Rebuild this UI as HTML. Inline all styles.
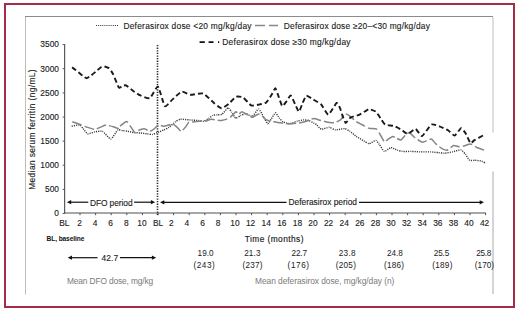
<!DOCTYPE html>
<html><head><meta charset="utf-8"><style>
html,body{margin:0;padding:0;background:#fff;}
body{width:520px;height:312px;overflow:hidden;}
svg{display:block;}
.t{font-family:"Liberation Sans", sans-serif;font-size:8.4px;fill:#1a1a1a;stroke:#1a1a1a;stroke-width:0.12px;}
.tb{font-family:"Liberation Sans", sans-serif;font-size:6.6px;font-weight:bold;fill:#111;}
.tg{font-family:"Liberation Sans", sans-serif;font-size:8.4px;fill:#7a7a7a;}
.tn{font-family:"Liberation Sans", sans-serif;font-size:8.2px;fill:#1a1a1a;}
.tt{font-family:"Liberation Sans", sans-serif;font-size:8.4px;fill:#1a1a1a;stroke:#1a1a1a;stroke-width:0.15px;}
</style></head><body>
<svg width="520" height="312" viewBox="0 0 520 312">
<rect x="5" y="4" width="509" height="303" fill="none" stroke="#a62b4a" stroke-width="2"/>
<path d="M25.5,294.5 V17" fill="none" stroke="#bdbdbd" stroke-width="1"/>
<path d="M25,16.5 H493" fill="none" stroke="#8c8c8c" stroke-width="1"/>
<path d="M493,17 V132.5" fill="none" stroke="#bdbdbd" stroke-width="1"/>
<path d="M493,171.5 V294" fill="none" stroke="#ababab" stroke-width="1"/>
<line x1="96" y1="25.5" x2="119" y2="25.5" stroke="#333" stroke-width="1" stroke-dasharray="1 1.1"/>
<text x="123.4" y="28.7" class="t" textLength="128.1" lengthAdjust="spacing">Deferasirox dose &lt;20 mg/kg/day</text>
<line x1="255" y1="25.5" x2="278" y2="25.5" stroke="#888" stroke-width="1.5" stroke-dasharray="10 4"/>
<text x="283.8" y="28.7" class="t" textLength="146.1" lengthAdjust="spacing">Deferasirox dose ≥20–&lt;30 mg/kg/day</text>
<path d="M199.6,42.2 H204.8 M208.6,42.2 H213.5 M218,42.2 H219.2" stroke="#111" stroke-width="1.8"/>
<text x="222.3" y="45" class="t" textLength="128.2" lengthAdjust="spacing">Deferasirox dose ≥30 mg/kg/day</text>
<line x1="64.6" y1="44" x2="64.6" y2="213.6" stroke="#5a5a5a" stroke-width="1.2"/>
<line x1="62.6" y1="213.5" x2="64.6" y2="213.5" stroke="#5a5a5a" stroke-width="1"/>
<text x="59" y="216.3" class="t" text-anchor="end">0</text>
<line x1="62.6" y1="189.4" x2="64.6" y2="189.4" stroke="#5a5a5a" stroke-width="1"/>
<text x="59" y="192.2" class="t" text-anchor="end">500</text>
<line x1="62.6" y1="165.2" x2="64.6" y2="165.2" stroke="#5a5a5a" stroke-width="1"/>
<text x="59" y="168.0" class="t" text-anchor="end">1000</text>
<line x1="62.6" y1="141.1" x2="64.6" y2="141.1" stroke="#5a5a5a" stroke-width="1"/>
<text x="59" y="143.9" class="t" text-anchor="end">1500</text>
<line x1="62.6" y1="117.0" x2="64.6" y2="117.0" stroke="#5a5a5a" stroke-width="1"/>
<text x="59" y="119.8" class="t" text-anchor="end">2000</text>
<line x1="62.6" y1="92.9" x2="64.6" y2="92.9" stroke="#5a5a5a" stroke-width="1"/>
<text x="59" y="95.7" class="t" text-anchor="end">2500</text>
<line x1="62.6" y1="68.7" x2="64.6" y2="68.7" stroke="#5a5a5a" stroke-width="1"/>
<text x="59" y="71.5" class="t" text-anchor="end">3000</text>
<line x1="62.6" y1="44.6" x2="64.6" y2="44.6" stroke="#5a5a5a" stroke-width="1"/>
<text x="59" y="47.4" class="t" text-anchor="end">3500</text>
<text transform="translate(34.9,129.6) rotate(-90)" class="t" text-anchor="middle" textLength="120.4" lengthAdjust="spacing">Median serum ferritin (ng/mL)</text>
<line x1="64" y1="213" x2="486" y2="213" stroke="#505050" stroke-width="1.2"/>
<text x="64.4" y="226.3" class="t" text-anchor="middle">BL</text>
<line x1="80.0" y1="213" x2="80.0" y2="215.2" stroke="#505050" stroke-width="1"/>
<text x="79.5" y="226.3" class="t" text-anchor="middle">2</text>
<line x1="95.6" y1="213" x2="95.6" y2="215.2" stroke="#505050" stroke-width="1"/>
<text x="95.1" y="226.3" class="t" text-anchor="middle">4</text>
<line x1="111.2" y1="213" x2="111.2" y2="215.2" stroke="#505050" stroke-width="1"/>
<text x="110.7" y="226.3" class="t" text-anchor="middle">6</text>
<line x1="126.8" y1="213" x2="126.8" y2="215.2" stroke="#505050" stroke-width="1"/>
<text x="126.3" y="226.3" class="t" text-anchor="middle">8</text>
<line x1="142.4" y1="213" x2="142.4" y2="215.2" stroke="#505050" stroke-width="1"/>
<text x="141.9" y="226.3" class="t" text-anchor="middle">10</text>
<line x1="158.0" y1="213" x2="158.0" y2="215.2" stroke="#505050" stroke-width="1"/>
<text x="158.0" y="226.3" class="t" text-anchor="middle">BL</text>
<line x1="173.6" y1="213" x2="173.6" y2="215.2" stroke="#505050" stroke-width="1"/>
<text x="171.3" y="226.3" class="t" text-anchor="middle">2</text>
<line x1="189.2" y1="213" x2="189.2" y2="215.2" stroke="#505050" stroke-width="1"/>
<text x="186.9" y="226.3" class="t" text-anchor="middle">4</text>
<line x1="204.8" y1="213" x2="204.8" y2="215.2" stroke="#505050" stroke-width="1"/>
<text x="202.5" y="226.3" class="t" text-anchor="middle">6</text>
<line x1="220.4" y1="213" x2="220.4" y2="215.2" stroke="#505050" stroke-width="1"/>
<text x="218.1" y="226.3" class="t" text-anchor="middle">8</text>
<line x1="236.0" y1="213" x2="236.0" y2="215.2" stroke="#505050" stroke-width="1"/>
<text x="235.0" y="226.3" class="t" text-anchor="middle">10</text>
<line x1="251.6" y1="213" x2="251.6" y2="215.2" stroke="#505050" stroke-width="1"/>
<text x="250.6" y="226.3" class="t" text-anchor="middle">12</text>
<line x1="267.2" y1="213" x2="267.2" y2="215.2" stroke="#505050" stroke-width="1"/>
<text x="266.2" y="226.3" class="t" text-anchor="middle">14</text>
<line x1="282.8" y1="213" x2="282.8" y2="215.2" stroke="#505050" stroke-width="1"/>
<text x="281.8" y="226.3" class="t" text-anchor="middle">16</text>
<line x1="298.4" y1="213" x2="298.4" y2="215.2" stroke="#505050" stroke-width="1"/>
<text x="297.4" y="226.3" class="t" text-anchor="middle">18</text>
<line x1="314.0" y1="213" x2="314.0" y2="215.2" stroke="#505050" stroke-width="1"/>
<text x="313.0" y="226.3" class="t" text-anchor="middle">20</text>
<line x1="329.6" y1="213" x2="329.6" y2="215.2" stroke="#505050" stroke-width="1"/>
<text x="328.6" y="226.3" class="t" text-anchor="middle">22</text>
<line x1="345.2" y1="213" x2="345.2" y2="215.2" stroke="#505050" stroke-width="1"/>
<text x="344.2" y="226.3" class="t" text-anchor="middle">24</text>
<line x1="360.8" y1="213" x2="360.8" y2="215.2" stroke="#505050" stroke-width="1"/>
<text x="359.8" y="226.3" class="t" text-anchor="middle">26</text>
<line x1="376.4" y1="213" x2="376.4" y2="215.2" stroke="#505050" stroke-width="1"/>
<text x="375.4" y="226.3" class="t" text-anchor="middle">28</text>
<line x1="392.0" y1="213" x2="392.0" y2="215.2" stroke="#505050" stroke-width="1"/>
<text x="391.0" y="226.3" class="t" text-anchor="middle">30</text>
<line x1="407.6" y1="213" x2="407.6" y2="215.2" stroke="#505050" stroke-width="1"/>
<text x="406.6" y="226.3" class="t" text-anchor="middle">32</text>
<line x1="423.2" y1="213" x2="423.2" y2="215.2" stroke="#505050" stroke-width="1"/>
<text x="422.2" y="226.3" class="t" text-anchor="middle">34</text>
<line x1="438.8" y1="213" x2="438.8" y2="215.2" stroke="#505050" stroke-width="1"/>
<text x="437.8" y="226.3" class="t" text-anchor="middle">36</text>
<line x1="454.4" y1="213" x2="454.4" y2="215.2" stroke="#505050" stroke-width="1"/>
<text x="453.4" y="226.3" class="t" text-anchor="middle">38</text>
<line x1="470.0" y1="213" x2="470.0" y2="215.2" stroke="#505050" stroke-width="1"/>
<text x="469.0" y="226.3" class="t" text-anchor="middle">40</text>
<line x1="485.6" y1="213" x2="485.6" y2="215.2" stroke="#505050" stroke-width="1"/>
<text x="484.6" y="226.3" class="t" text-anchor="middle">42</text>
<line x1="157.5" y1="45" x2="157.5" y2="215" stroke="#2a2a2a" stroke-width="1.6" stroke-dasharray="1.3 1.3"/>
<line x1="69.9" y1="202.2" x2="88.3" y2="202.2" stroke="#111" stroke-width="1.2"/>
<line x1="134.1" y1="202.2" x2="152.2" y2="202.2" stroke="#111" stroke-width="1.2"/>
<path d="M66.9,202.2 l4.3,-2.1 v4.2 z" fill="#111"/>
<path d="M155.2,202.2 l-4.3,-2.1 v4.2 z" fill="#111"/>
<text x="89.9" y="205.8" class="t" textLength="42.7" lengthAdjust="spacing">DFO period</text>
<line x1="163.0" y1="202.3" x2="286.5" y2="202.3" stroke="#111" stroke-width="1.2"/>
<line x1="359" y1="202.3" x2="481.0" y2="202.3" stroke="#111" stroke-width="1.2"/>
<path d="M160,202.3 l4.3,-2.1 v4.2 z" fill="#111"/>
<path d="M484,202.3 l-4.3,-2.1 v4.2 z" fill="#111"/>
<text x="288.4" y="205.2" class="t" textLength="68.6" lengthAdjust="spacing">Deferasirox period</text>
<path d="M71.7,126.2 C72.3,126.1 78.4,124.7 79.4,124.9 C80.4,125.1 82.5,128.0 83.2,128.7 C83.9,129.4 86.7,133.5 87.7,133.8 C88.7,134.1 93.6,132.1 94.8,131.9 C96.0,131.7 101.2,130.7 102.5,131.3 C103.8,131.9 109.5,139.1 110.8,139.0 C112.1,138.9 116.8,130.7 117.8,130.0 C118.8,129.3 121.9,130.5 122.7,130.6 C123.5,130.7 126.8,131.1 127.8,131.3 C128.8,131.5 133.1,132.5 134.2,132.6 C135.3,132.7 139.5,132.9 140.6,133.0 C141.7,133.1 146.0,133.7 147.0,133.8 C148.0,133.9 151.3,134.6 152.2,134.5 C153.1,134.4 156.3,133.0 157.3,132.6 C158.3,132.2 162.7,130.4 163.7,130.0 C164.7,129.6 167.8,128.1 168.8,127.4 C169.8,126.7 174.4,122.5 175.4,121.8 C176.4,121.1 179.3,119.4 180.5,119.2 C181.7,119.0 188.0,119.8 189.5,119.9 C191.0,120.0 197.3,120.4 198.5,120.5 C199.7,120.6 202.8,121.4 203.6,121.2 C204.4,121.0 207.9,119.1 208.7,118.6 C209.4,118.1 211.8,115.7 212.6,115.4 C213.3,115.1 216.9,114.9 217.7,114.8 C218.5,114.7 221.3,114.8 222.2,114.2 C223.1,113.6 227.2,108.0 228.0,107.8 C228.8,107.6 231.2,111.4 231.8,112.3 C232.4,113.2 234.8,117.8 235.6,118.1 C236.3,118.4 239.9,115.9 240.8,115.5 C241.7,115.1 244.9,113.5 245.9,113.6 C246.9,113.7 251.2,116.6 252.3,116.2 C253.4,115.8 257.7,109.0 258.7,109.1 C259.7,109.2 263.1,116.1 263.8,117.3 C264.6,118.5 267.1,123.6 267.7,123.7 C268.3,123.8 270.9,119.5 271.5,118.6 C272.1,117.7 274.8,112.9 275.4,112.8 C276.0,112.7 278.6,117.2 279.2,117.9 C279.8,118.7 282.2,121.3 283.1,121.8 C284.0,122.3 288.3,123.8 289.5,123.7 C290.7,123.7 296.0,121.5 297.2,121.2 C298.4,120.9 302.6,120.0 303.6,119.9 C304.6,119.8 307.8,120.2 308.7,120.5 C309.6,120.8 313.2,122.8 313.8,123.1 C314.4,123.4 315.8,124.2 316.4,124.7 C317.0,125.2 320.4,129.0 321.5,129.2 C322.6,129.4 328.0,127.2 329.2,127.3 C330.4,127.4 334.3,129.8 335.6,129.9 C336.9,130.0 343.4,128.5 344.6,128.6 C345.8,128.7 348.7,130.6 349.7,131.2 C350.7,131.8 355.0,135.5 356.2,136.3 C357.4,137.1 362.7,140.2 363.8,140.8 C364.9,141.4 368.0,143.7 369.0,143.7 C370.0,143.7 375.1,140.4 376.0,140.5 C376.9,140.6 378.5,143.5 379.2,144.4 C379.9,145.3 383.4,151.1 384.4,151.4 C385.4,151.7 389.7,147.7 390.8,147.6 C391.9,147.5 396.2,149.8 397.2,150.1 C398.2,150.4 401.1,151.3 402.3,151.4 C403.5,151.5 409.8,151.4 411.3,151.4 C412.8,151.4 418.7,151.9 420.3,151.9 C421.9,151.9 429.0,151.8 430.5,151.9 C432.0,152.0 437.0,152.5 438.2,152.6 C439.4,152.7 443.4,153.3 444.6,153.2 C445.8,153.1 450.9,152.2 452.3,151.9 C453.7,151.6 459.8,149.7 460.9,149.9 C462.0,150.1 465.0,153.8 465.7,154.7 C466.4,155.6 468.9,159.8 469.7,160.3 C470.5,160.8 474.3,160.2 475.3,160.3 C476.3,160.4 480.8,160.8 481.7,161.1 C482.6,161.4 485.4,163.3 485.7,163.5" fill="none" stroke="#333" stroke-width="1.4" stroke-dasharray="1.1 1.1"/>
<path d="M72.3,121.7 C72.9,121.9 78.3,123.8 79.4,124.2 C80.5,124.6 84.5,126.4 85.8,126.8 C87.1,127.2 93.6,129.3 94.8,129.4 C96.0,129.5 99.1,127.7 99.9,127.4 C100.8,127.1 104.3,125.5 105.0,125.3 C105.7,125.1 107.5,125.4 108.2,125.5 C108.9,125.6 112.5,126.5 113.4,126.8 C114.3,127.1 118.5,128.8 119.1,128.7 C119.7,128.6 119.5,126.8 120.1,126.2 C120.7,125.6 125.6,121.4 126.5,121.4 C127.4,121.4 129.7,125.3 130.4,126.2 C131.1,127.1 134.2,132.3 134.9,132.6 C135.7,132.9 138.6,130.3 139.4,130.0 C140.2,129.7 143.7,128.6 144.5,128.7 C145.3,128.8 148.8,131.2 149.6,131.3 C150.3,131.4 152.8,129.9 153.5,129.4 C154.2,128.9 157.7,125.2 158.6,124.9 C159.5,124.6 162.9,126.3 163.8,126.3 C164.7,126.3 168.2,125.2 169.0,125.0 C169.8,124.8 172.2,123.5 172.8,123.7 C173.4,123.9 176.0,126.3 176.7,126.9 C177.4,127.5 180.5,131.4 181.2,131.4 C181.9,131.4 185.0,127.7 185.6,126.9 C186.2,126.2 188.1,122.8 188.8,122.4 C189.6,122.0 193.7,121.9 194.6,121.8 C195.5,121.7 198.8,121.2 199.7,121.2 C200.6,121.2 204.5,121.4 205.5,121.2 C206.5,121.0 210.3,119.3 211.3,119.2 C212.3,119.1 216.8,120.1 217.7,120.2 C218.5,120.3 220.8,120.5 221.5,120.4 C222.2,120.3 225.2,119.7 226.0,119.4 C226.8,119.1 229.7,117.8 230.5,117.2 C231.3,116.6 235.2,112.0 235.9,111.7 C236.6,111.5 238.3,114.2 238.8,114.2 C239.3,114.2 241.3,111.6 242.0,111.7 C242.7,111.8 246.6,114.5 247.5,115.0 C248.4,115.5 251.4,117.3 252.3,117.2 C253.2,117.1 257.7,114.0 258.7,114.0 C259.7,114.0 263.3,117.0 263.8,117.4 C264.3,117.8 264.6,118.9 265.1,119.2 C265.6,119.5 269.2,120.9 270.3,121.2 C271.4,121.5 276.7,122.2 278.0,122.4 C279.3,122.6 284.4,123.6 285.6,123.7 C286.8,123.8 290.9,123.8 292.0,123.7 C293.1,123.7 297.3,123.3 298.5,123.1 C299.7,122.9 304.9,121.6 306.2,121.2 C307.5,120.8 312.6,118.5 313.8,118.4 C315.0,118.3 319.1,120.0 320.3,120.3 C321.5,120.6 326.8,122.0 328.0,122.2 C329.2,122.4 333.3,123.0 334.4,122.8 C335.5,122.6 339.9,120.3 340.8,119.6 C341.7,118.8 344.0,114.2 344.6,113.8 C345.2,113.4 347.5,114.5 348.5,115.1 C349.5,115.7 354.9,120.6 356.2,121.5 C357.5,122.4 362.7,125.0 363.8,125.6 C364.9,126.2 367.9,128.0 369.0,128.3 C370.1,128.6 375.8,128.7 376.7,129.2 C377.6,129.7 379.3,133.0 379.9,134.1 C380.5,135.2 383.7,141.4 384.4,141.8 C385.1,142.2 387.5,139.6 388.2,139.2 C388.9,138.8 392.1,136.5 392.7,136.4 C393.3,136.3 395.2,137.6 395.9,137.9 C396.6,138.2 400.1,140.2 401.0,139.9 C401.9,139.6 405.5,134.7 406.2,134.1 C406.9,133.5 408.8,132.6 409.4,132.8 C410.0,133.0 413.1,136.1 413.8,136.7 C414.5,137.3 416.9,139.2 417.7,139.7 C418.4,140.2 421.7,142.4 422.8,142.3 C423.9,142.2 430.1,139.0 431.2,139.1 C432.3,139.2 434.7,142.8 435.6,143.6 C436.5,144.4 441.0,148.1 442.0,148.7 C443.0,149.2 446.2,150.5 447.2,150.2 C448.2,149.9 452.6,145.8 453.6,145.5 C454.6,145.2 458.4,146.7 459.3,146.7 C460.2,146.7 463.2,146.1 464.1,145.9 C465.0,145.7 469.4,143.8 470.5,143.9 C471.6,144.0 475.7,147.0 476.9,147.5 C478.1,148.0 484.3,150.2 485.0,150.4" fill="none" stroke="#858585" stroke-width="1.5" stroke-dasharray="10 3"/>
<path d="M72.1,67.4 C72.4,67.6 75.1,69.5 76.0,70.2 C76.9,70.9 81.8,75.1 82.7,75.8 C83.6,76.5 85.8,78.2 86.5,78.2 C87.2,78.2 90.1,76.2 91.0,75.6 C91.9,75.0 96.2,71.2 97.1,70.5 C97.9,69.8 100.6,67.5 101.2,67.2 C101.8,66.9 103.6,66.4 104.3,66.5 C105.0,66.6 108.3,67.7 109.0,68.3 C109.7,68.9 112.2,72.4 113.0,74.0 C113.8,75.6 118.0,86.4 118.8,87.4 C119.5,88.4 121.4,86.4 122.0,86.2 C122.6,86.0 125.1,84.9 126.0,85.3 C126.9,85.7 132.0,90.2 133.2,91.0 C134.4,91.8 139.0,94.8 140.4,95.4 C141.8,96.0 148.3,98.9 149.8,98.2 C151.3,97.5 156.7,85.9 157.9,86.6 C159.2,87.3 163.6,105.0 164.8,106.1 C166.0,107.2 170.9,100.8 172.3,99.6 C173.7,98.4 180.2,92.0 181.7,91.6 C183.2,91.2 188.6,94.6 190.4,94.8 C192.2,95.0 201.3,92.8 203.3,93.5 C205.3,94.2 212.7,102.0 214.2,103.2 C215.7,104.4 220.3,108.1 221.5,108.2 C222.7,108.3 227.5,104.9 228.7,103.9 C229.9,102.9 234.7,97.2 235.9,96.7 C237.1,96.2 241.8,96.7 243.1,97.4 C244.4,98.1 249.8,104.8 251.1,105.4 C252.4,106.0 257.7,104.8 259.0,104.6 C260.3,104.4 265.2,103.3 266.2,102.5 C267.2,101.7 270.5,96.5 271.3,95.3 C272.1,94.1 274.7,88.0 275.3,88.2 C275.9,88.4 278.4,96.2 279.0,97.7 C279.6,99.2 281.7,105.8 282.3,106.1 C282.9,106.4 286.1,101.9 286.8,101.0 C287.5,100.1 290.0,95.1 290.7,95.4 C291.4,95.7 294.5,103.0 295.2,104.4 C295.9,105.8 298.3,111.8 298.9,111.7 C299.5,111.6 301.9,104.6 302.5,103.3 C303.1,102.0 305.5,96.0 306.4,95.7 C307.3,95.4 312.0,98.8 313.2,99.5 C314.4,100.2 319.9,103.2 321.2,104.5 C322.5,105.8 327.1,114.7 328.4,114.6 C329.7,114.5 335.6,103.4 336.6,102.9 C337.6,102.4 339.6,107.2 340.1,108.4 C340.6,109.6 342.4,115.6 342.9,116.8 C343.4,118.0 345.1,123.0 345.7,123.0 C346.3,123.0 349.6,118.1 350.7,117.4 C351.8,116.7 357.7,115.5 359.1,114.9 C360.5,114.3 366.1,110.6 367.0,110.1 C367.9,109.6 368.6,109.0 369.3,109.1 C370.0,109.2 374.8,110.8 375.8,111.6 C376.8,112.4 380.1,117.7 380.9,118.8 C381.7,119.9 384.1,124.0 385.2,124.6 C386.3,125.2 392.6,125.6 393.9,126.0 C395.2,126.4 400.0,128.9 401.1,129.6 C402.2,130.3 406.4,134.1 407.6,134.0 C408.8,133.9 414.3,128.7 415.5,128.9 C416.7,129.1 420.7,136.5 422.0,136.1 C423.3,135.7 430.1,125.3 431.5,124.5 C432.9,123.7 438.0,125.9 439.4,126.4 C440.8,126.9 446.8,129.5 448.1,130.3 C449.4,131.1 453.5,135.8 454.6,135.6 C455.7,135.4 460.2,128.3 461.1,128.1 C462.0,127.9 464.6,131.8 465.4,133.1 C466.2,134.4 469.8,142.6 470.5,143.2 C471.2,143.8 473.0,141.1 474.1,140.4 C475.2,139.7 482.6,135.7 483.4,135.3" fill="none" stroke="#1a1a1a" stroke-width="1.9" stroke-dasharray="5 3"/>
<text x="46.6" y="240.9" class="tb" textLength="37.7" lengthAdjust="spacing">BL, baseline</text>
<text x="244.7" y="242.1" class="tt" textLength="58.8" lengthAdjust="spacing">Time (months)</text>
<line x1="70.7" y1="257.7" x2="97.5" y2="257.7" stroke="#111" stroke-width="1.2"/>
<line x1="120" y1="257.7" x2="153.2" y2="257.7" stroke="#111" stroke-width="1.2"/>
<path d="M67.7,257.7 l4.3,-2.1 v4.2 z" fill="#111"/>
<path d="M156.2,257.7 l-4.3,-2.1 v4.2 z" fill="#111"/>
<text x="101.5" y="260.6" class="t" textLength="16.7" lengthAdjust="spacing">42.7</text>
<text x="197.6" y="256" class="tn" textLength="16.0" lengthAdjust="spacing">19.0</text>
<text x="193.4" y="267.6" class="tn" textLength="21.4" lengthAdjust="spacing">(243)</text>
<text x="244.2" y="256" class="tn" textLength="16.3" lengthAdjust="spacing">21.3</text>
<text x="242.6" y="267.6" class="tn" textLength="19.9" lengthAdjust="spacing">(237)</text>
<text x="291.6" y="256" class="tn" textLength="15.4" lengthAdjust="spacing">22.7</text>
<text x="287.6" y="267.6" class="tn" textLength="21.4" lengthAdjust="spacing">(176)</text>
<text x="338.8" y="256" class="tn" textLength="16.7" lengthAdjust="spacing">23.8</text>
<text x="335.8" y="267.6" class="tn" textLength="20.1" lengthAdjust="spacing">(205)</text>
<text x="386.9" y="256" class="tn" textLength="16.0" lengthAdjust="spacing">24.8</text>
<text x="384.1" y="267.6" class="tn" textLength="19.9" lengthAdjust="spacing">(186)</text>
<text x="433.8" y="256" class="tn" textLength="15.5" lengthAdjust="spacing">25.5</text>
<text x="432.3" y="267.6" class="tn" textLength="20.1" lengthAdjust="spacing">(189)</text>
<text x="476.3" y="256" class="tn" textLength="14.9" lengthAdjust="spacing">25.8</text>
<text x="474.8" y="267.6" class="tn" textLength="19.3" lengthAdjust="spacing">(170)</text>
<text x="66.9" y="283.6" class="tg" textLength="86.3" lengthAdjust="spacing">Mean DFO dose, mg/kg</text>
<text x="255.0" y="283.5" class="tg" textLength="139.3" lengthAdjust="spacing">Mean deferasirox dose, mg/kg/day (n)</text>
</svg>
</body></html>
